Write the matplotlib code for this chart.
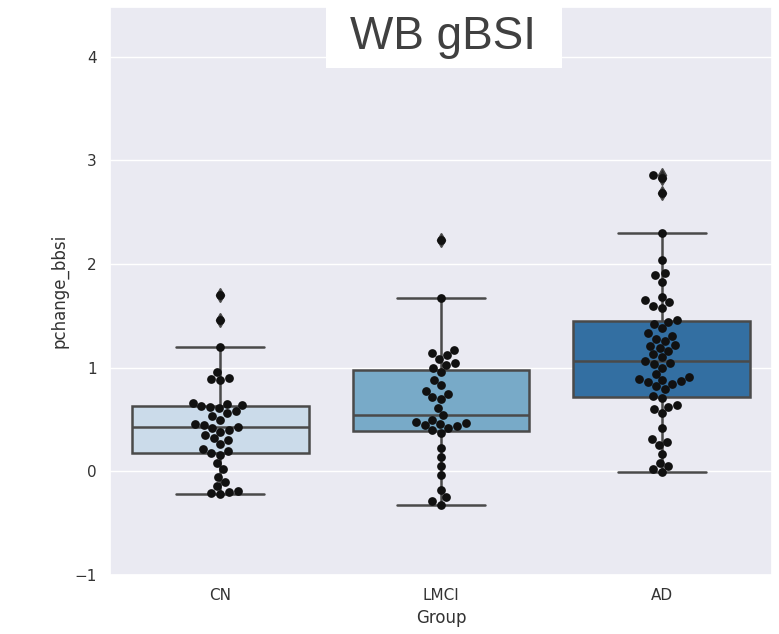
import matplotlib
matplotlib.use("Agg")
import matplotlib.pyplot as plt
import seaborn as sns
import pandas as pd
from matplotlib.patches import Rectangle

groups = ["CN", "LMCI", "AD"]

cn_values = [-0.22, -0.21, -0.20, -0.19, -0.14, -0.10, -0.05, 0.02, 0.08, 0.16,
             0.18, 0.20, 0.22, 0.26, 0.30, 0.32, 0.35, 0.38, 0.40, 0.42,
             0.43, 0.45, 0.46, 0.50, 0.53, 0.56, 0.58, 0.61, 0.62, 0.63,
             0.64, 0.65, 0.66, 0.88, 0.89, 0.90, 0.96, 1.20, 1.46, 1.70]

lmci_values = [-0.32, -0.29, -0.25, -0.18, -0.04, 0.05, 0.14, 0.23, 0.37, 0.40,
               0.42, 0.44, 0.45, 0.46, 0.47, 0.48, 0.50, 0.54, 0.61, 0.70,
               0.72, 0.75, 0.78, 0.83, 0.88, 0.96, 1.00, 1.03, 1.05, 1.08,
               1.12, 1.14, 1.17, 1.67, 2.23]

ad_values = [-0.01, 0.02, 0.05, 0.08, 0.17, 0.25, 0.28, 0.31, 0.42, 0.56,
             0.60, 0.62, 0.64, 0.71, 0.73, 0.79, 0.82, 0.84, 0.86, 0.87,
             0.88, 0.89, 0.91, 0.94, 1.00, 1.04, 1.05, 1.06, 1.10, 1.13,
             1.16, 1.19, 1.21, 1.22, 1.26, 1.28, 1.31, 1.33, 1.38, 1.42,
             1.44, 1.46, 1.58, 1.60, 1.63, 1.65, 1.68, 1.83, 1.89, 1.91,
             2.04, 2.30, 2.69, 2.83, 2.86]

yticks = [-1, 0, 1, 2, 3, 4]

df = pd.DataFrame({
    "Group": ["CN"] * len(cn_values) + ["LMCI"] * len(lmci_values) + ["AD"] * len(ad_values),
    "pchange_bbsi": cn_values + lmci_values + ad_values,
})

sns.set_theme(style="darkgrid")
plt.rcParams['font.family'] = ['DejaVu Sans']

fig = plt.figure(figsize=(7.79, 6.34), dpi=100)
ax = fig.add_axes([110 / 779, 59 / 634, 662 / 779, 568 / 634])

sns.boxplot(data=df, x="Group", y="pchange_bbsi", order=groups, hue="Group",
            palette="Blues", legend=False, ax=ax, linewidth=1.8, linecolor="#4a4a4a",
            flierprops=dict(marker="d", markersize=7, markerfacecolor="#2a2a2a"))
sns.swarmplot(data=df, x="Group", y="pchange_bbsi", order=groups, color="#111111",
              size=6.3, ax=ax)

ax.set_ylim(-1, 4.48)
ax.set_yticks(yticks)
ax.set_yticklabels(["\u22121", "0", "1", "2", "3", "4"])
ax.tick_params(labelsize=11, labelcolor="#333333")
ax.set_xlabel("Group", fontsize=12, color="#333333")
ax.set_ylabel("pchange_bbsi", fontsize=12, color="#333333")

fig.patches.append(Rectangle((326 / 779, 1 - 68 / 634), 236 / 779, 68 / 634,
                             transform=fig.transFigure, facecolor="white",
                             edgecolor="none", zorder=10))
fig.text(443 / 779, 1 - 37 / 634, "WB gBSI", ha="center", va="center",
         fontsize=33, color="#404040", family="Liberation Sans", zorder=11)

fig.savefig("out.png", dpi=100)
